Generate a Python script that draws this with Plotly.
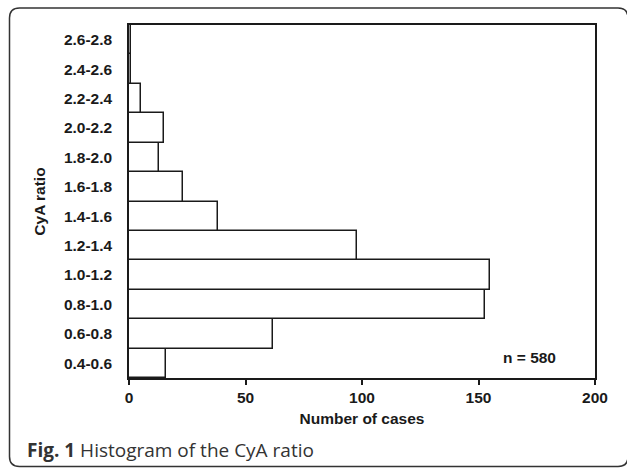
import plotly.graph_objects as go

categories = ["0.4-0.6", "0.6-0.8", "0.8-1.0", "1.0-1.2", "1.2-1.4", "1.4-1.6",
              "1.6-1.8", "1.8-2.0", "2.0-2.2", "2.2-2.4", "2.4-2.6", "2.6-2.8"]
counts = [16, 62, 153, 155, 98, 38, 23, 13, 15, 5, 1, 1]
x_ticks = [0, 50, 100, 150, 200]
n_label = "n = 580"
caption_bold = "Fig. 1"
caption_text = "Histogram of the CyA ratio"

W, H = 627, 468
L, R, T, B = 129, 32, 25, 90
pw, ph = W - L - R, H - T - B


def px(xp):
    return (xp - L) / pw


def py(yp):
    return (H - B - yp) / ph


font_family = "Arial, Liberation Sans, sans-serif"

fig = go.Figure()
fig.add_trace(go.Bar(
    y=categories, x=counts, orientation="h",
    marker=dict(color="white", line=dict(color="#1a1a1a", width=1.5)),
    width=1.0, showlegend=False, hoverinfo="skip",
))

# outer rounded frame (pixel -> paper)
x0, x1, y0, y1, r = 9.5, 628, 8, 466.5, 10
path = (
    f"M {px(x0)},{py(y0 + r)} "
    f"Q {px(x0)},{py(y0)} {px(x0 + r)},{py(y0)} "
    f"L {px(x1 - r)},{py(y0)} "
    f"Q {px(x1)},{py(y0)} {px(x1)},{py(y0 + r)} "
    f"L {px(x1)},{py(y1 - r)} "
    f"Q {px(x1)},{py(y1)} {px(x1 - r)},{py(y1)} "
    f"L {px(x0 + r)},{py(y1)} "
    f"Q {px(x0)},{py(y1)} {px(x0)},{py(y1 - r)} Z"
)
fig.add_shape(type="path", path=path, xref="paper", yref="paper",
              line=dict(color="#333333", width=1.5), layer="below")

fig.add_annotation(
    text=n_label, xref="x", yref="paper", x=184, y=py(357),
    xanchor="right", yanchor="middle", showarrow=False,
    font=dict(family=font_family, size=15.5, color="#1a1a1a", weight="bold"),
)
fig.add_annotation(
    text=f"<b>{caption_bold}</b> {caption_text}", xref="paper", yref="paper",
    x=px(25), y=py(450), xanchor="left", yanchor="middle", showarrow=False,
    font=dict(family="Open Sans, sans-serif", size=19, color="#333333"),
)

fig.update_layout(
    width=W, height=H,
    margin=dict(l=L, r=R, t=T, b=B),
    paper_bgcolor="white", plot_bgcolor="white",
    bargap=0,
    font=dict(family=font_family, color="#1a1a1a"),
    xaxis=dict(
        range=[0, 200], tickvals=x_ticks, ticks="outside", ticklen=5,
        tickwidth=1.5, tickcolor="#1a1a1a",
        showline=True, linewidth=1.5, linecolor="#1a1a1a", mirror=True,
        showgrid=False, zeroline=False,
        tickfont=dict(size=15.5, family=font_family, weight="bold"),
        title=dict(text="Number of cases", font=dict(size=15.5, weight="bold"), standoff=8),
    ),
    yaxis=dict(
        type="category", categoryorder="array", categoryarray=categories,
        range=[-0.5, len(categories) - 0.5],
        ticks="", showline=True, linewidth=1.5, linecolor="#1a1a1a", mirror=True,
        showgrid=False, zeroline=False, ticklabelstandoff=12,
        tickfont=dict(size=15.5, family=font_family, weight="bold"),
        title=dict(text="CyA ratio", font=dict(size=15.5, weight="bold"), standoff=14),
    ),
)
fig.write_html("out.html", config={"displayModeBar": False},
               post_script="document.body.style.margin='0';document.body.style.overflow='hidden';")
